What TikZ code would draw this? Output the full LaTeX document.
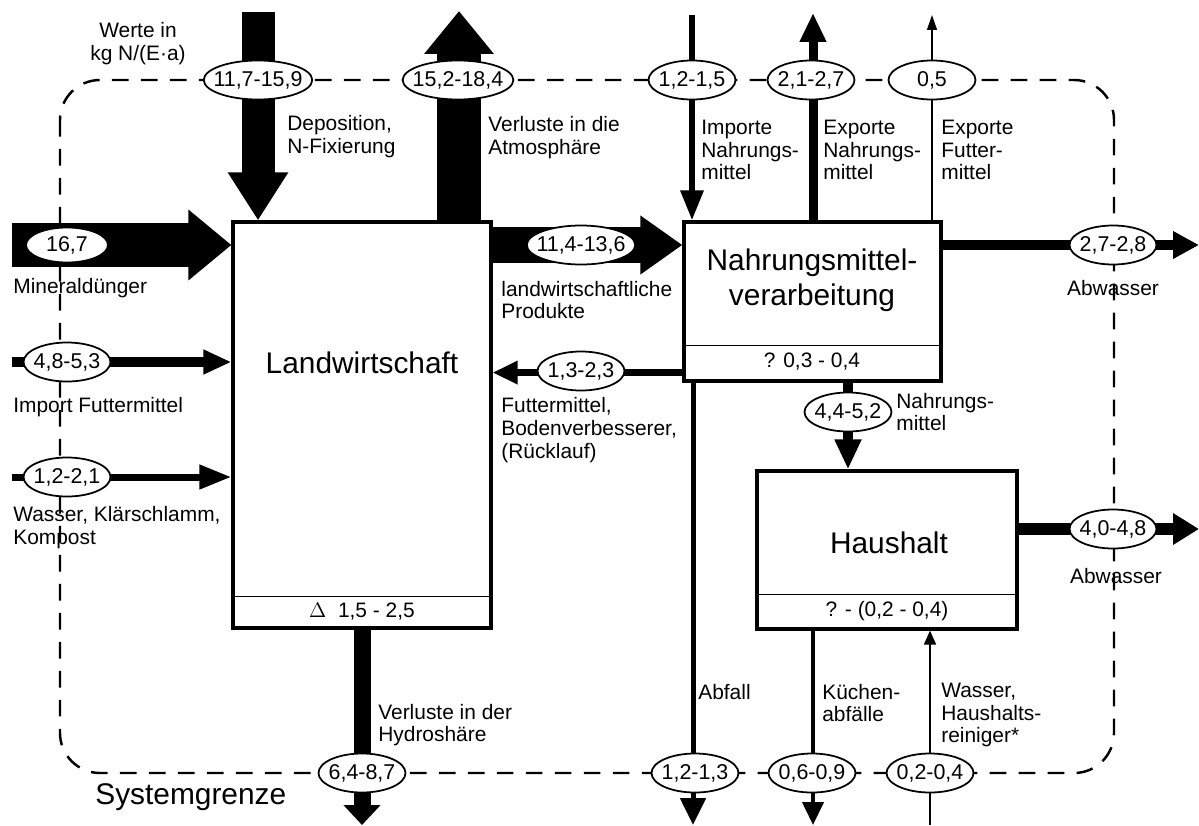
\documentclass[tikz,border=0pt]{standalone}
\usepackage{fontspec}
\setmainfont{Liberation Sans}
\usetikzlibrary{arrows.meta, positioning, shapes.geometric}

\begin{document}
\begin{tikzpicture}
[
	x=0.02cm, y=-0.02cm,
	box/.style={rectangle,draw,line width=1.8pt,fill=white},
	sep/.style={line width=0.8pt},
	val/.style={ellipse,draw,fill=white,line width=1pt,minimum width=1.74cm,minimum height=0.78cm,inner xsep=-3.5pt,inner ysep=0pt,font=\fontsize{12.2}{13}\selectfont},
	lbl/.style={anchor=west,align=left,inner sep=0pt,font=\fontsize{11.9}{13}\selectfont},
	big/.style={align=center,inner sep=0pt,font=\fontsize{17}{20}\selectfont},
	flow/.style n args={3}{line width=#1,-{Triangle[width=#2,length=#3]}},
	sysb/.style={dash pattern=on 9.5pt off 7pt,line width=1.4pt,rounded corners=0.8cm}
]
\useasboundingbox (0,0) rectangle (1199,825);

% Systemgrenze
\draw[sysb] (60,80) rectangle (1114,773);

% Prozesse
\node[box,minimum width=5.16cm,minimum height=8.12cm] (land) at (362,425) {};
\node[box,minimum width=5.14cm,minimum height=3.18cm] (nmv) at (812.5,301.5) {};
\node[box,minimum width=5.2cm,minimum height=3.16cm] (haus) at (887,550) {};

\draw[sep] ([yshift=0.66cm]land.south west) -- ([yshift=0.66cm]land.south east);
\draw[sep] ([yshift=0.74cm]nmv.south west) -- ([yshift=0.74cm]nmv.south east);
\draw[sep] ([yshift=0.72cm]haus.south west) -- ([yshift=0.72cm]haus.south east);

\node[big] (tLand) at (362,363) {Landwirtschaft};
\node[big] (tNmv) at (812,280) {Nahrungsmittel-\\verarbeitung};
\node[big] (tHaus) at (889,543) {Haushalt};

\node[lbl,anchor=center] (bLand) at (362,612) {$\Delta$\ \ 1,5 - 2,5};
\node[lbl,anchor=center] (bNmv) at (812,362) {? 0,3 - 0,4};
\node[lbl,anchor=center] (bHaus) at (887,611) {? - (0,2 - 0,4)};

% freie Enden
\coordinate (depIn) at (258,12);
\coordinate (atmOut) at (459,11);
\coordinate (impIn) at (692,15);
\coordinate (expNOut) at (813,13);
\coordinate (expFOut) at (932,15);
\coordinate (minIn) at (12,245);
\coordinate (futIn) at (12,362);
\coordinate (wasIn) at (12,477);
\coordinate (abw1Out) at (1199,245);
\coordinate (abw2Out) at (1199,529);
\coordinate (hydOut) at (362,825);
\coordinate (abfOut) at (693,825);
\coordinate (kueOut) at (813,825);
\coordinate (hwIn) at (930,825);
\coordinate (nahrX) at (848,412);

% Fluesse
\draw[flow={0.66cm}{1.14cm}{0.96cm}] (depIn) -- (depIn |- land.north);
\draw[flow={0.88cm}{1.34cm}{0.86cm}] (atmOut |- land.north) -- (atmOut);
\draw[flow={0.12cm}{0.44cm}{0.6cm}] (impIn) -- (impIn |- nmv.north);
\draw[flow={0.18cm}{0.5cm}{0.58cm}] (expNOut |- nmv.north) -- (expNOut);
\draw[flow={0.03cm}{0.2cm}{0.3cm}] (expFOut |- nmv.north) -- (expFOut);

\draw[flow={0.88cm}{1.36cm}{0.86cm}] (minIn) -- (minIn -| land.west);
\draw[flow={0.2cm}{0.46cm}{0.56cm}] (futIn) -- (futIn -| land.west);
\draw[flow={0.14cm}{0.46cm}{0.64cm}] (wasIn) -- (wasIn -| land.west);

\draw[flow={0.72cm}{1.12cm}{0.84cm}] (minIn -| land.east) -- (minIn -| nmv.west);
\draw[flow={0.14cm}{0.44cm}{0.5cm}] ([yshift=0.2cm]nmv.south west) -- ([yshift=0.2cm]nmv.south west -| land.east);
\draw[flow={0.2cm}{0.52cm}{0.52cm}] (minIn -| nmv.east) -- (abw1Out);
\draw[flow={0.2cm}{0.5cm}{0.6cm}] (nahrX |- nmv.south) -- (nahrX |- haus.north);
\draw[flow={0.24cm}{0.6cm}{0.52cm}] (abw2Out -| haus.east) -- (abw2Out);

\draw[flow={0.34cm}{0.72cm}{0.4cm}] (land.south) -- (hydOut);
\draw[flow={0.1cm}{0.5cm}{0.54cm}] (abfOut |- nmv.south) -- (abfOut);
\draw[flow={0.08cm}{0.42cm}{0.46cm}] (kueOut |- haus.south) -- (kueOut);
\draw[flow={0.03cm}{0.24cm}{0.28cm}] (hwIn) -- (hwIn |- haus.south);

% Werte
\node[val] (vDep) at (258,80) {11,7-15,9};
\node[val] (vAtm) at (458,80) {15,2-18,4};
\node[val] (vImp) at (692,80) {1,2-1,5};
\node[val] (vExN) at (811,80) {2,1-2,7};
\node[val] (vExF) at (932,80) {0,5};
\node[val,minimum width=1.64cm,minimum height=0.7cm] (vMin) at (67,245) {16,7};
\node[val] (vFut) at (67,362) {4,8-5,3};
\node[val] (vWas) at (67,477) {1,2-2,1};
\node[val] (vProd) at (581,245) {11,4-13,6};
\node[val] (vRueck) at (581,371) {1,3-2,3};
\node[val] (vAbw1) at (1113,245) {2,7-2,8};
\node[val] (vNahr) at (nahrX) {4,4-5,2};
\node[val] (vAbw2) at (1113,529) {4,0-4,8};
\node[val] (vHyd) at (362,773) {6,4-8,7};
\node[val] (vAbf) at (695,773) {1,2-1,3};
\node[val] (vKue) at (812,773) {0,6-0,9};
\node[val] (vHw) at (930,773) {0,2-0,4};

% Beschriftungen
\node[lbl,anchor=center,align=center] (tWerte) at (138,44) {Werte in\\kg N/(E·a)};
\node[lbl] (tDep) at (287,137) {Deposition,\\N-Fixierung};
\node[lbl] (tAtm) at (488,138) {Verluste in die\\Atmosphäre};
\node[lbl] (tImp) at (701,150) {Importe\\Nahrungs-\\mittel};
\node[lbl] (tExN) at (823,150) {Exporte\\Nahrungs-\\mittel};
\node[lbl] (tExF) at (941,150) {Exporte\\Futter-\\mittel};
\node[lbl] (tMin) at (13,288) {Mineraldünger};
\node[lbl] (tFut) at (13,407) {Import Futtermittel};
\node[lbl] (tWas) at (13,528) {Wasser, Klärschlamm,\\Kompost};
\node[lbl] (tProd) at (501,300) {landwirtschaftliche\\Produkte};
\node[lbl] (tRueck) at (501,430) {Futtermittel,\\Bodenverbesserer,\\(Rücklauf)};
\node[lbl] (tNahr) at (896,412) {Nahrungs-\\mittel};
\node[lbl,anchor=center] (tAbw1) at (1113,288) {Abwasser};
\node[lbl,anchor=center] (tAbw2) at (1116,576) {Abwasser};
\node[lbl] (tHyd) at (378,725) {Verluste in der\\Hydroshäre};
\node[lbl] (tAbf) at (698,692) {Abfall};
\node[lbl] (tKue) at (822,703) {Küchen-\\abfälle};
\node[lbl] (tHw) at (941,715) {Wasser,\\Haushalts-\\reiniger*};
\node[big,anchor=west] (tSys) at (95,797) {Systemgrenze};

\end{tikzpicture}
\end{document}
